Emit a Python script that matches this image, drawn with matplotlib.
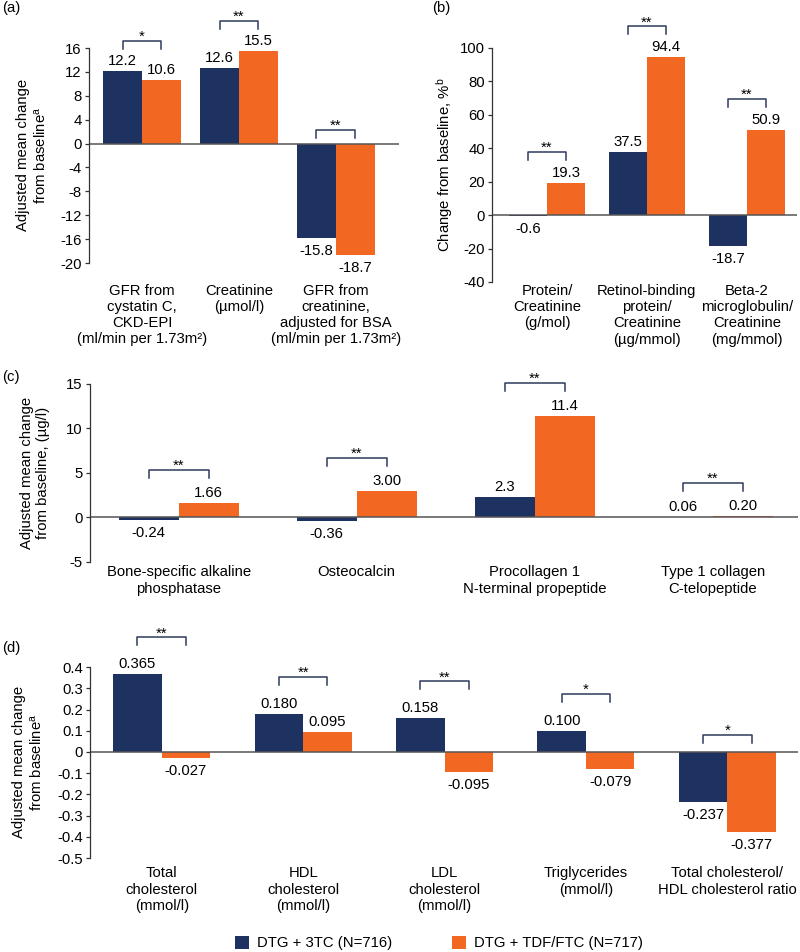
import numpy as np
import matplotlib
matplotlib.use("Agg")
import matplotlib.pyplot as plt
from matplotlib.patches import Patch

plt.rcParams['font.family'] = ['Liberation Sans', 'DejaVu Sans']
plt.rcParams['font.size'] = 10.7
plt.rcParams['axes.unicode_minus'] = False
plt.rcParams['mathtext.fontset'] = 'custom'
plt.rcParams['mathtext.rm'] = 'Liberation Sans'
plt.rcParams['mathtext.it'] = 'Liberation Sans:italic'

NAVY = '#1d3260'
ORANGE = '#f26722'
FIG_H = 952

# (a) renal function
a_cats = ['GFR from\ncystatin C,\nCKD-EPI\n(ml/min per 1.73m²)',
          'Creatinine\n(µmol/l)',
          'GFR from\ncreatinine,\nadjusted for BSA\n(ml/min per 1.73m²)']
a_3tc = [12.2, 12.6, -15.8]
a_tdf = [10.6, 15.5, -18.7]
a_stars = ['*', '**', '**']

# (b) urine markers
b_cats = ['Protein/\nCreatinine\n(g/mol)',
          'Retinol-binding\nprotein/\nCreatinine\n(µg/mmol)',
          'Beta-2\nmicroglobulin/\nCreatinine\n(mg/mmol)']
b_3tc = [-0.6, 37.5, -18.7]
b_tdf = [19.3, 94.4, 50.9]
b_stars = ['**', '**', '**']

# (c) bone markers
c_cats = ['Bone-specific alkaline\nphosphatase', 'Osteocalcin',
          'Procollagen 1\nN-terminal propeptide', 'Type 1 collagen\nC-telopeptide']
c_3tc = [-0.24, -0.36, 2.3, 0.06]
c_tdf = [1.66, 3.00, 11.4, 0.20]
c_3tc_txt = ['-0.24', '-0.36', '2.3', '0.06']
c_tdf_txt = ['1.66', '3.00', '11.4', '0.20']
c_stars = ['**', '**', '**', '**']

# (d) lipids
d_cats = ['Total\ncholesterol\n(mmol/l)', 'HDL\ncholesterol\n(mmol/l)',
          'LDL\ncholesterol\n(mmol/l)', 'Triglycerides\n(mmol/l)',
          'Total cholesterol/\nHDL cholesterol ratio']
d_3tc = [0.365, 0.180, 0.158, 0.100, -0.237]
d_tdf = [-0.027, 0.095, -0.095, -0.079, -0.377]
d_stars = ['**', '**', '**', '*', '*']


def px2data(ax, px):
    lo, hi = ax.get_ylim()
    return px * (hi - lo) / (ax.get_position().height * FIG_H)


def panel(ax, cats, v1, v2, stars, width, ylim, yticks, xlim, xpad,
          t1=None, t2=None, fmt='{:.1f}', brk=30, brk0=14, tickfmt=None):
    x = np.arange(len(cats))
    ax.set_xlim(*xlim)
    ax.set_ylim(*ylim)
    ax.bar(x - width / 2, v1, width, color=NAVY)
    ax.bar(x + width / 2, v2, width, color=ORANGE)
    ax.axhline(0, color='#555555', lw=1.1)

    t1 = t1 or [fmt.format(v) for v in v1]
    t2 = t2 or [fmt.format(v) for v in v2]
    for xs, vals, txts in ((x - width / 2, v1, t1), (x + width / 2, v2, t2)):
        for xi, v, t in zip(xs, vals, txts):
            off = 6 if v >= 0 else -17
            ax.annotate(t, (xi, v), xytext=(0, off), textcoords='offset pixels',
                        ha='center', va='baseline', annotation_clip=False)

    # significance brackets
    tick = px2data(ax, 8)
    for xi, a, b, s in zip(x, v1, v2, stars):
        base = max(a, b, 0)
        top = base + px2data(ax, brk if base > 0 else brk0)
        ax.plot([xi - width / 2, xi - width / 2, xi + width / 2, xi + width / 2],
                [top - tick, top, top, top - tick], color='#2e3b5c', lw=1.1,
                clip_on=False)
        ax.annotate(s, (xi, top), xytext=(0, 0), textcoords='offset pixels',
                    ha='center', va='baseline', annotation_clip=False)

    ax.set_xticks(x)
    ax.set_xticklabels(cats)
    ax.tick_params(axis='x', length=0, pad=xpad)
    ax.set_yticks(yticks)
    if tickfmt:
        ax.set_yticklabels([tickfmt(v) for v in yticks])
    ax.tick_params(axis='y', length=3, width=0.9, pad=2, color='#333333')
    for side in ('top', 'right', 'bottom'):
        ax.spines[side].set_visible(False)
    ax.spines['left'].set_color('#333333')
    ax.spines['left'].set_linewidth(0.9)


fig = plt.figure(figsize=(8, 9.52), dpi=100)

ax_a = fig.add_axes([0.111, 0.7237, 0.3875, 0.2258])
panel(ax_a, a_cats, a_3tc, a_tdf, a_stars, 0.4, (-20, 16), np.arange(-20, 17, 4),
      (-0.55, 2.65), 15, brk=30, brk0=14)

ax_b = fig.add_axes([0.615, 0.7038, 0.381, 0.2458])
panel(ax_b, b_cats, b_3tc, b_tdf, b_stars, 0.38, (-40, 100), np.arange(-40, 101, 20),
      (-0.55, 2.5), 1.5, brk=31, brk0=14)

ax_c = fig.add_axes([0.112, 0.4097, 0.8856, 0.187])
panel(ax_c, c_cats, c_3tc, c_tdf, c_stars, 0.337, (-5, 15), [-5, 0, 5, 10, 15],
      (-0.5, 3.48), 2.5, t1=c_3tc_txt, t2=c_tdf_txt, brk=33)

ax_d = fig.add_axes([0.112, 0.0987, 0.8856, 0.2006])
d_ticks = np.round(np.arange(-0.5, 0.41, 0.1), 1)
panel(ax_d, d_cats, d_3tc, d_tdf, d_stars, 0.343, (-0.5, 0.4), d_ticks,
      (-0.51, 4.5), 6, fmt='{:.3f}', brk=37, brk0=17,
      tickfmt=lambda v: '0' if abs(v) < 1e-9 else f'{v:.1f}')

# y labels
fig.text(32 / 800, 1 - 155 / FIG_H, 'Adjusted mean change\nfrom baseline$^\\mathrm{a}$',
         rotation=90, ha='center', va='center', multialignment='center')
fig.text(445 / 800, 1 - 165 / FIG_H, 'Change from baseline, %$^\\mathrm{b}$',
         rotation=90, ha='center', va='center')
fig.text(35 / 800, 1 - 473 / FIG_H, 'Adjusted mean change\nfrom baseline, (µg/l)',
         rotation=90, ha='center', va='center', multialignment='center')
fig.text(28 / 800, 1 - 762 / FIG_H, 'Adjusted mean change\nfrom baseline$^\\mathrm{a}$',
         rotation=90, ha='center', va='center', multialignment='center')

# panel letters
fig.text(2 / 800, 1 - 8 / FIG_H, '(a)', va='center')
fig.text(432 / 800, 1 - 8 / FIG_H, '(b)', va='center')
fig.text(2 / 800, 1 - 377 / FIG_H, '(c)', va='center')
fig.text(2 / 800, 1 - 648 / FIG_H, '(d)', va='center')

handles = [Patch(facecolor=NAVY), Patch(facecolor=ORANGE)]
fig.legend(handles, ['DTG + 3TC (N=716)', 'DTG + TDF/FTC (N=717)'],
           loc='center', bbox_to_anchor=(0.549, 1 - 943 / FIG_H), ncol=2,
           frameon=False, handlelength=0.95, handleheight=0.95,
           handletextpad=0.55, columnspacing=4.0)

fig.savefig('out.png', dpi=100)
